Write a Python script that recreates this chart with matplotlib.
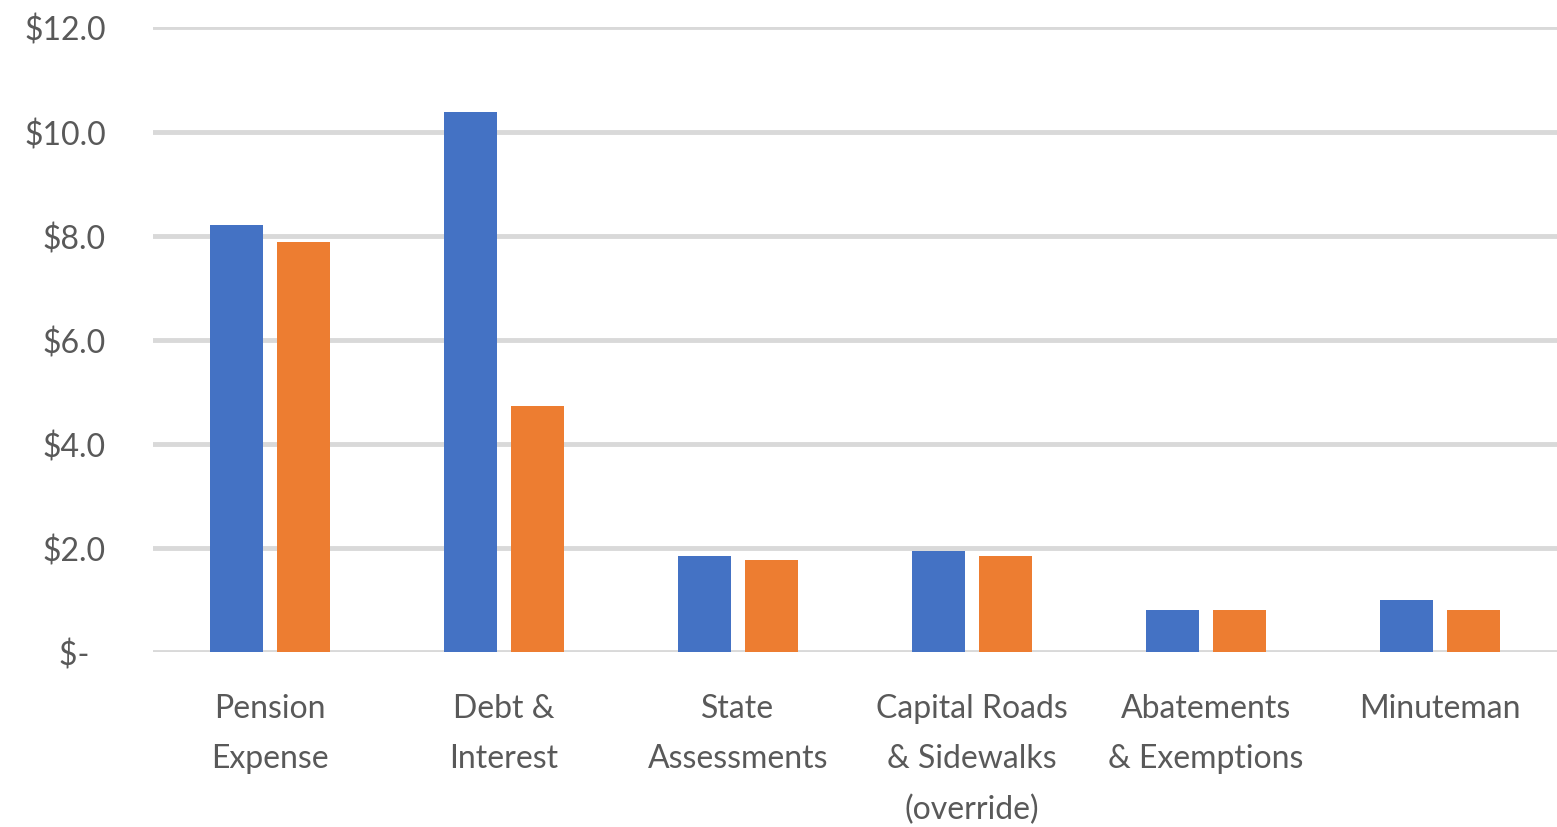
import numpy as np
import matplotlib.pyplot as plt

categories = ["Pension\nExpense", "Debt &\nInterest", "State\nAssessments",
              "Capital Roads\n& Sidewalks\n(override)", "Abatements\n& Exemptions", "Minuteman"]
series_a = [8.20, 10.38, 1.86, 1.95, 0.82, 1.00]
series_b = [7.88, 4.73, 1.78, 1.86, 0.82, 0.82]
y_ticks = [0, 2, 4, 6, 8, 10, 12]
y_tick_labels = ["$-  ", "$2.0", "$4.0", "$6.0", "$8.0", "$10.0", "$12.0"]

plt.rcParams['font.family'] = ['Lato', 'DejaVu Sans']

fig = plt.figure(figsize=(15.57, 8.28), dpi=100)
ax = fig.add_axes([0.0983, 0.2108, 0.9017, 0.7548])

x = np.arange(len(categories))
w = 0.225
off = 0.143
ax.bar(x - off, series_a, width=w, color="#4472C4", zorder=3)
ax.bar(x + off, series_b, width=w, color="#ED7D31", zorder=3)

ax.set_xlim(-0.5, len(categories) - 0.5)
ax.set_ylim(0, 12)
ax.set_yticks(y_ticks)
ax.set_yticklabels(y_tick_labels)
ax.set_xticks(x)
ax.set_xticklabels(categories, linespacing=1.84, va="top")

ax.grid(axis="y", color="#D9D9D9", linewidth=3.5, zorder=0)
ax.tick_params(axis="both", length=0, labelsize=23, labelcolor="#595959")
ax.tick_params(axis="y", pad=34)
ax.tick_params(axis="x", pad=29)
for s in ax.spines.values():
    s.set_visible(False)

plt.savefig("out.png", dpi=100)
